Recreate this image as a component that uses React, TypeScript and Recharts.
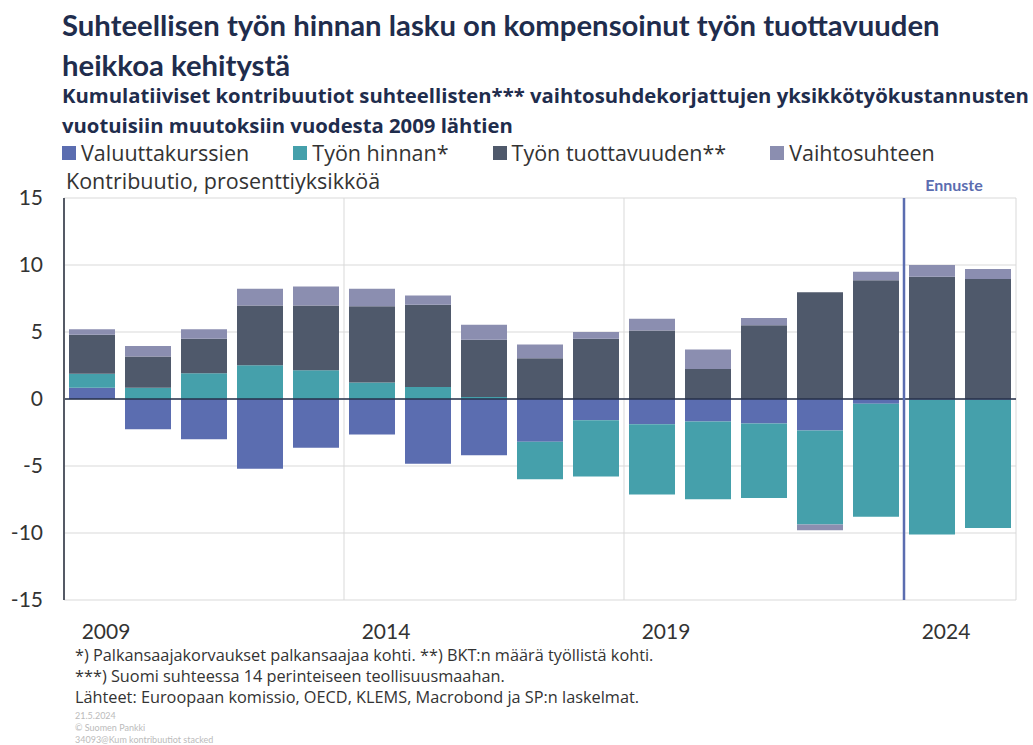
import React from 'react';
import { BarChart, Bar, XAxis, YAxis, CartesianGrid, ReferenceLine } from 'recharts';

const years = ['2009', '2010', '2011', '2012', '2013', '2014', '2015', '2016', '2017', '2018', '2019', '2020', '2021', '2022', '2023', '2024', '2025'];
const valuuttakurssien = [0.84, -2.25, -3.0, -5.2, -3.64, -2.65, -4.83, -4.2, -3.19, -1.58, -1.88, -1.68, -1.83, -2.35, -0.35, -0.05, -0.05];
const tyonHinnan = [1.04, 0.84, 1.93, 2.52, 2.15, 1.24, 0.89, 0.15, -2.8, -4.21, -5.25, -5.8, -5.55, -7.01, -8.44, -10.07, -9.58];
const tyonTuottavuuden = [2.92, 2.33, 2.57, 4.46, 4.83, 5.69, 6.14, 4.28, 3.04, 4.5, 5.12, 2.23, 5.5, 7.97, 8.86, 9.13, 8.96];
const vaihtosuhteen = [0.4, 0.79, 0.7, 1.24, 1.41, 1.29, 0.69, 1.11, 1.02, 0.5, 0.87, 1.46, 0.54, -0.44, 0.64, 0.87, 0.74];
const yTicks = [15, 10, 5, 0, -5, -10, -15];

const series = [
  { key: 'valuutta', name: 'Valuuttakurssien', color: '#5b6db0' },
  { key: 'hinta', name: 'Työn hinnan*', color: '#45a0ab' },
  { key: 'tuottavuus', name: 'Työn tuottavuuden**', color: '#4f596b' },
  { key: 'vaihto', name: 'Vaihtosuhteen', color: '#8b8eb0' },
];

const data = years.map((y, i) => ({
  year: y,
  valuutta: valuuttakurssien[i],
  hinta: tyonHinnan[i],
  tuottavuus: tyonTuottavuuden[i],
  vaihto: vaihtosuhteen[i],
}));

const FONT = 'Lato, "Open Sans", sans-serif';
const BODY = '"Open Sans", Lato, sans-serif';
const NAVY = '#1f2d4d';

const XTick = (props: any) => {
  const { x, y, payload } = props;
  return (
    <text x={x + 14} y={y + 31} textAnchor="middle" fontSize={21} fill="#333" fontFamily={FONT}>
      {payload.value}
    </text>
  );
};

const YTick = (props: any) => {
  const { y, payload } = props;
  return (
    <text x={43} y={y + 7} textAnchor="end" fontSize={21} fill="#333" fontFamily={FONT}>
      {payload.value}
    </text>
  );
};

export default function App() {
  return (
    <div style={{ position: 'absolute', left: 0, top: 0, width: 1033, height: 745, background: '#fff', fontFamily: FONT }}>
      <div style={{ position: 'absolute', left: 62, top: 5, fontSize: 29.3, fontWeight: 700, color: NAVY, lineHeight: '40px', whiteSpace: 'nowrap' }}>
        Suhteellisen työn hinnan lasku on kompensoinut työn tuottavuuden<br />heikkoa kehitystä
      </div>
      <div style={{ position: 'absolute', left: 62, top: 80, fontSize: 20.3, fontWeight: 700, color: NAVY, lineHeight: '30px', whiteSpace: 'nowrap', fontFamily: BODY }}>
        Kumulatiiviset kontribuutiot suhteellisten*** vaihtosuhdekorjattujen yksikkötyökustannusten<br />vuotuisiin muutoksiin vuodesta 2009 lähtien
      </div>
      <div style={{ position: 'absolute', left: 62, top: 139, display: 'flex', fontSize: 21.5, color: '#333', lineHeight: '28px', fontFamily: BODY, whiteSpace: 'nowrap' }}>
        {series.map((s) => (
          <div key={s.key} style={{ display: 'flex', alignItems: 'center', marginRight: 44 }}>
            <span style={{ display: 'inline-block', width: 14, height: 14, background: s.color, marginRight: 5 }} />
            {s.name}
          </div>
        ))}
      </div>
      <div style={{ position: 'absolute', left: 66, top: 168, fontSize: 21.5, color: '#333', lineHeight: '26px', fontFamily: BODY }}>
        Kontribuutio, prosenttiyksikköä
      </div>
      <div style={{ position: 'absolute', left: 0, top: 0 }}>
        <BarChart width={1033} height={745} data={data} stackOffset="sign" barCategoryGap={5}
          margin={{ top: 198, right: 17, bottom: 105, left: 0 }}>
          <CartesianGrid vertical={false} stroke="#d9d9d9" />
          <XAxis dataKey="year" height={40} axisLine={false} tickLine={false} interval={4} tick={<XTick />} />
          <YAxis width={64} domain={[-15, 15]} ticks={yTicks} tickLine={false} axisLine={{ stroke: '#555a66', strokeWidth: 2 }} tick={<YTick />} />
          <ReferenceLine x="2014" position="start" stroke="#d9d9d9" />
          <ReferenceLine x="2019" position="start" stroke="#d9d9d9" />
          <ReferenceLine x="2025" position="end" stroke="#d9d9d9" />
          {series.map((s) => (
            <Bar key={s.key} dataKey={s.key} name={s.name} stackId="a" fill={s.color} isAnimationActive={false} />
          ))}
          <ReferenceLine y={0} stroke="#26304a" strokeWidth={1.5} />
          <ReferenceLine x="2024" position="start" stroke="#5b6db0" strokeWidth={2.5}
            label={{ value: 'Ennuste', position: 'top', dx: 50, dy: -2, fill: '#5b6db0', fontSize: 16, fontWeight: 700, fontFamily: FONT }} />
        </BarChart>
      </div>
      <div style={{ position: 'absolute', left: 75, top: 645, fontSize: 16.3, color: '#333', lineHeight: '21px', fontFamily: BODY, whiteSpace: 'nowrap' }}>
        *) Palkansaajakorvaukset palkansaajaa kohti. **) BKT:n määrä työllistä kohti.<br />
        ***) Suomi suhteessa 14 perinteiseen teollisuusmaahan.<br />
        Lähteet: Euroopaan komissio, OECD, KLEMS, Macrobond ja SP:n laskelmat.
      </div>
      <div style={{ position: 'absolute', left: 75, top: 710, fontSize: 9, color: '#bbb', lineHeight: '12px' }}>
        21.5.2024<br />© Suomen Pankki<br />34093@Kum kontribuutiot stacked
      </div>
    </div>
  );
}
